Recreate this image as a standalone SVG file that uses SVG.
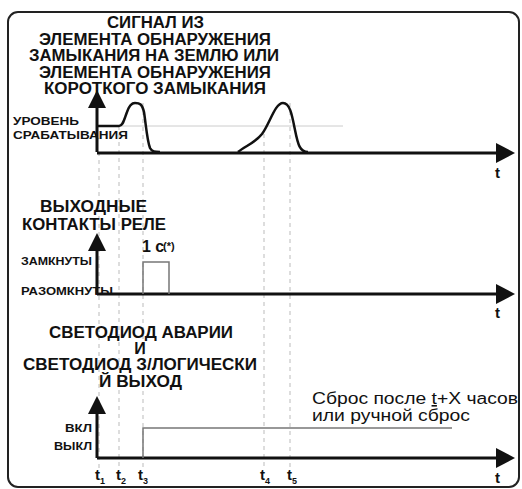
<svg xmlns="http://www.w3.org/2000/svg" width="522" height="489" viewBox="0 0 522 489">
<style>
.b{font-family:"Liberation Sans",Arial,sans-serif;font-weight:bold;fill:#111}
.t{font-size:16px}
.s{font-size:11px}
.r{font-family:"Liberation Sans",Arial,sans-serif;font-size:16px;fill:#111}
.ax{stroke:#111;stroke-width:3;fill:none}
.ah{fill:#111}
.dash{stroke:#bbb;stroke-width:1;stroke-dasharray:4 4;fill:none}
.sig{stroke:#111;stroke-width:2.5;fill:none;stroke-linejoin:round}
.thin{stroke:#777;stroke-width:1.5;fill:none}
.tk{font-family:"Liberation Sans",Arial,sans-serif;font-weight:bold;font-size:15px;fill:#111}
</style>
<rect x="8" y="12" width="511" height="475" rx="10" fill="#fff" stroke="#222" stroke-width="2"/>
<g id="connectors">
<path class="dash" d="M99,152 V470 M119,126 V470 M143,103 V470 M264,134 V470 M290,103 V470"/>
<line x1="97" y1="126" x2="343" y2="126" stroke="#ccc" stroke-width="1"/>
</g>
<g id="panel-signal">
<path class="ax" d="M97,152 V104 M97,153 H500"/>
<polygon class="ah" points="97,90 88,108 106,108"/>
<polygon class="ah" points="515,153 496,143 496,163"/>
<path class="sig" d="M97,126 H119 C123,126 124,120 127,112 C129,106 131,103 135,103 C140,103 142,104 144,112 C146,125 147,140 150,148 C152,152 155,152 160,152"/>
<path class="sig" d="M238,152 C245,146 255,143 262,134 C270,123 275,103 283,103 C290,103 292,115 295,130 C298,145 300,152 308,152"/>
<text class="b t" x="107" y="28" textLength="97" lengthAdjust="spacingAndGlyphs">СИГНАЛ ИЗ</text>
<text class="b t" x="39" y="45" textLength="232" lengthAdjust="spacingAndGlyphs">ЭЛЕМЕНТА ОБНАРУЖЕНИЯ</text>
<text class="b t" x="29" y="61" textLength="250" lengthAdjust="spacingAndGlyphs">ЗАМЫКАНИЯ НА ЗЕМЛЮ ИЛИ</text>
<text class="b t" x="39" y="78" textLength="232" lengthAdjust="spacingAndGlyphs">ЭЛЕМЕНТА ОБНАРУЖЕНИЯ</text>
<text class="b t" x="44" y="94" textLength="222" lengthAdjust="spacingAndGlyphs">КОРОТКОГО ЗАМЫКАНИЯ</text>
<text class="b s" x="13" y="125" textLength="66" lengthAdjust="spacingAndGlyphs">УРОВЕНЬ</text>
<text class="b s" x="13" y="139" textLength="115" lengthAdjust="spacingAndGlyphs">СРАБАТЫВАНИЯ</text>
<text class="tk" x="495" y="178">t</text>
</g>
<g id="panel-relay">
<path class="ax" d="M97,294 V246 M97,294 H500"/>
<polygon class="ah" points="97,233 88,251 106,251"/>
<polygon class="ah" points="515,294 496,284 496,304"/>
<path class="thin" d="M143,294 V262 H169 V294"/>
<text class="b t" x="40" y="212" textLength="107" lengthAdjust="spacingAndGlyphs">ВЫХОДНЫЕ</text>
<text class="b t" x="22" y="230" textLength="144" lengthAdjust="spacingAndGlyphs">КОНТАКТЫ РЕЛЕ</text>
<text class="b" x="142" y="252" font-size="16">1 с</text>
<text class="b" x="163" y="250" font-size="11">(*)</text>
<text class="b s" x="21" y="265" textLength="71" lengthAdjust="spacingAndGlyphs">ЗАМКНУТЫ</text>
<text class="b s" x="21" y="295" textLength="92" lengthAdjust="spacingAndGlyphs">РАЗОМКНУТЫ</text>
<text class="tk" x="495" y="318">t</text>
</g>
<g id="panel-led">
<path class="ax" d="M97,458 V409 M97,458 H500"/>
<polygon class="ah" points="97,396 88,414 106,414"/>
<polygon class="ah" points="515,458 496,448 496,468"/>
<path class="thin" d="M143,458 V428 H452"/>
<text class="b t" x="49" y="338" textLength="184" lengthAdjust="spacingAndGlyphs">СВЕТОДИОД АВАРИИ</text>
<text class="b t" x="140" y="354" text-anchor="middle">И</text>
<text class="b t" x="23" y="370" textLength="234" lengthAdjust="spacingAndGlyphs">СВЕТОДИОД З/ЛОГИЧЕСКИ</text>
<text class="b t" x="99" y="387" textLength="83" lengthAdjust="spacingAndGlyphs">Й ВЫХОД</text>
<text class="b s" x="65" y="432" textLength="27" lengthAdjust="spacingAndGlyphs">ВКЛ</text>
<text class="b s" x="54" y="450" textLength="38" lengthAdjust="spacingAndGlyphs">ВЫКЛ</text>
<text class="r" x="312" y="404" textLength="206" lengthAdjust="spacingAndGlyphs">Сброс после <tspan text-decoration="underline">t</tspan>+X часов</text>
<text class="r" x="312" y="421" textLength="158" lengthAdjust="spacingAndGlyphs">или ручной сброс</text>
<text class="tk" x="495" y="483">t</text>
</g>
<g id="ticks">
<text class="tk" x="95" y="480">t<tspan font-size="9" dy="4">1</tspan></text>
<text class="tk" x="116" y="480">t<tspan font-size="9" dy="4">2</tspan></text>
<text class="tk" x="138" y="480">t<tspan font-size="9" dy="4">3</tspan></text>
<text class="tk" x="260" y="480">t<tspan font-size="9" dy="4">4</tspan></text>
<text class="tk" x="287" y="480">t<tspan font-size="9" dy="4">5</tspan></text>
</g>
</svg>
